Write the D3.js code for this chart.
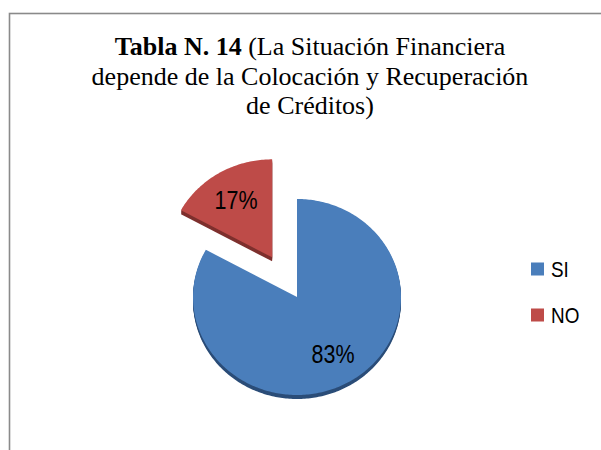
<!DOCTYPE html>
<html><head><meta charset="utf-8">
<script src="https://cdn.jsdelivr.net/npm/d3@7"></script>
<style>html,body{margin:0;padding:0;background:#fff;}svg{display:block;}</style>
</head><body>
<svg id="c" width="601" height="450"></svg>
<script>
const categories = ["SI", "NO"];
const values = [83, 17];
const valueLabels = ["83%", "17%"];
const titleBold = "Tabla N. 14";
const titleLines = [" (La Situación Financiera", "depende de la Colocación y Recuperación", "de Créditos)"];
const explodeFor = [0, 0.47];

const colors = ["#4a7ebb", "#be4b48"];
const sideColors = ["#2b4d78", "#7e302e"];

const svg = d3.select("#c");
svg.append("rect").attr("width", 601).attr("height", 450).attr("fill", "#fff");
svg.append("rect").attr("x", 9.5).attr("y", 13.5).attr("width", 700).attr("height", 600)
  .attr("fill", "none").attr("stroke", "#8a8a8a").attr("stroke-width", 1.6);

// title
const tFont = "'Liberation Serif','Times New Roman',serif";
const title = svg.append("text").attr("text-anchor", "middle")
  .attr("font-family", tFont).attr("font-size", 26).attr("fill", "#000");
const l1 = title.append("tspan").attr("x", 310).attr("y", 55);
l1.append("tspan").attr("font-weight", "bold").text(titleBold);
l1.append("tspan").text(titleLines[0]);
title.append("tspan").attr("x", 310).attr("y", 84.5).text(titleLines[1]);
title.append("tspan").attr("x", 310).attr("y", 114).text(titleLines[2]);

// pie
const cx = 297, cy = 297, rx = 104, ry = 98, depth = 4;
const arcs = d3.pie().sort(null).value(d => d)(values);
const sx = d3.scaleLinear().domain([-1, 1]).range([cx - rx, cx + rx]);
const sy = d3.scaleLinear().domain([-1, 1]).range([cy - ry, cy + ry]);

function slicePath(a, dx, dy) {
  const pts = [[sx(0) + dx, sy(0) + dy]];
  const n = Math.max(8, Math.ceil((a.endAngle - a.startAngle) * 60));
  for (let i = 0; i <= n; i++) {
    const t = a.startAngle + (a.endAngle - a.startAngle) * i / n;
    pts.push([sx(Math.sin(t)) + dx, sy(-Math.cos(t)) + dy]);
  }
  return d3.line()(pts) + "Z";
}
function offsetOf(a, i) {
  const m = (a.startAngle + a.endAngle) / 2;
  return [sx(explodeFor[i] * Math.sin(m)) - cx, sy(-explodeFor[i] * Math.cos(m)) - cy];
}

const g = svg.append("g");
arcs.forEach((a, i) => {
  const [ox, oy] = offsetOf(a, i);
  for (let k = depth; k >= 1; k--) {
    g.append("path").attr("d", slicePath(a, ox, oy + k)).attr("fill", sideColors[i]);
  }
});
arcs.forEach((a, i) => {
  const [ox, oy] = offsetOf(a, i);
  g.append("path").attr("d", slicePath(a, ox, oy)).attr("fill", colors[i]);
});

const lFont = "'Liberation Sans','Arial',sans-serif";
arcs.forEach((a, i) => {
  const [ox, oy] = offsetOf(a, i);
  const m = (a.startAngle + a.endAngle) / 2;
  const r = 0.68;
  const x = sx(r * Math.sin(m)) + ox, y = sy(-r * Math.cos(m)) + oy;
  svg.append("text").attr("transform", `translate(${x},${y}) scale(0.86,1)`)
    .attr("dy", "0.35em").attr("text-anchor", "middle")
    .attr("font-family", lFont).attr("font-size", 25).attr("fill", "#000")
    .text(valueLabels[i]);
});

// legend
const ly = d3.scalePoint().domain(categories).range([269.5, 315.5]);
categories.forEach((c, i) => {
  svg.append("rect").attr("x", 531).attr("y", ly(c) - 7).attr("width", 13).attr("height", 13)
    .attr("fill", colors[i]);
  svg.append("text").attr("transform", `translate(551,${ly(c)}) scale(0.86,1)`).attr("dy", "0.35em")
    .attr("font-family", lFont).attr("font-size", 22).attr("fill", "#000").text(c);
});
</script>
</body></html>
